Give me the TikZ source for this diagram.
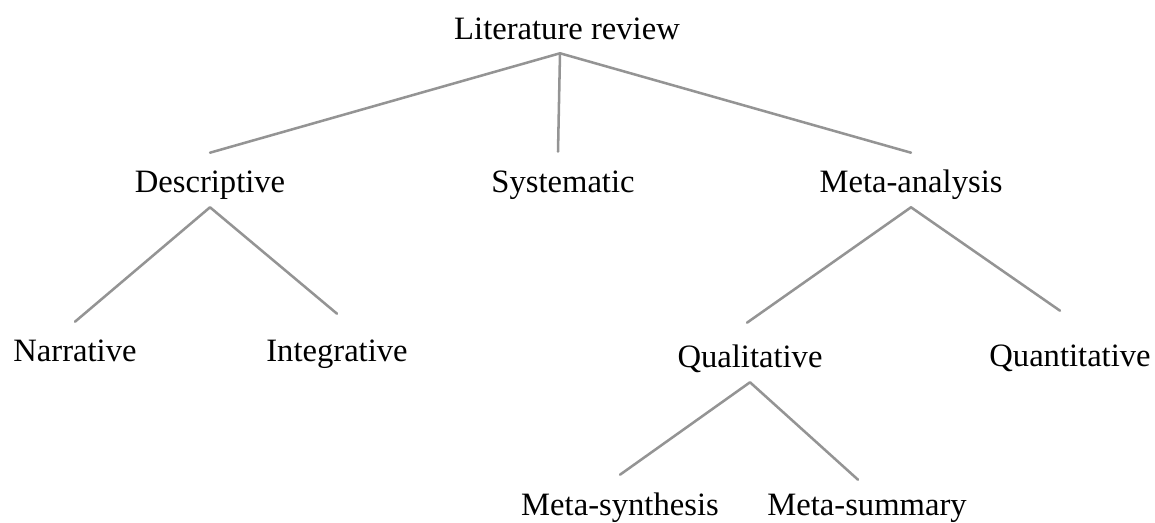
\documentclass[tikz,border=0pt]{standalone}
\usepackage{fontspec}
\setmainfont{Liberation Serif}
\usetikzlibrary{calc}
\begin{document}
\begin{tikzpicture}[x=.025cm,y=-.025cm,line cap=round,line join=round,
  begriff/.style={font=\fontsize{23.2pt}{27pt}\selectfont,anchor=base,inner sep=0pt,
    text height=28.45pt,text depth=9.96pt},
  ast/.style={draw=black!42,line width=1.8pt}]
\useasboundingbox (0,0) rectangle (1155,523);
% Oberbegriff und die drei Arten.
\node[begriff] (review) at (567,40){Literature review};
\node[begriff] (descr) at (210,193){Descriptive};
\node[begriff] (syst) at (563,193){Systematic};
\node[begriff] (meta) at (911,193){Meta-analysis};
% Untere Ebenen.
\node[begriff] (narr) at (75,362){Narrative};
\node[begriff] (integ) at (337,362){Integrative};
\node[begriff] (qual) at (750,368){Qualitative};
\node[begriff] (quan) at (1070,367){Quantitative};
\node[begriff] (msyn) at (620,515){Meta-synthesis};
\node[begriff] (msum) at (867,515){Meta-summary};
% Verzweigungen.
\coordinate (gabel) at ($(review.south)+(-7,-1)$);
\draw[ast] (descr.north) -- (gabel) -- (meta.north);
\draw[ast] (gabel) -- ($(syst.north)+(-5,-1)$);
\draw[ast] (narr.north) -- (descr.south) -- ($(integ.north)+(0,-8)$);
\draw[ast] ($(qual.north)+(-3,-5)$) -- (meta.south) -- ($(quan.north)+(-10,-16)$);
\draw[ast] (msyn.north) -- (qual.south) -- ($(msum.north)+(-9,5)$);
\end{tikzpicture}
\end{document}
